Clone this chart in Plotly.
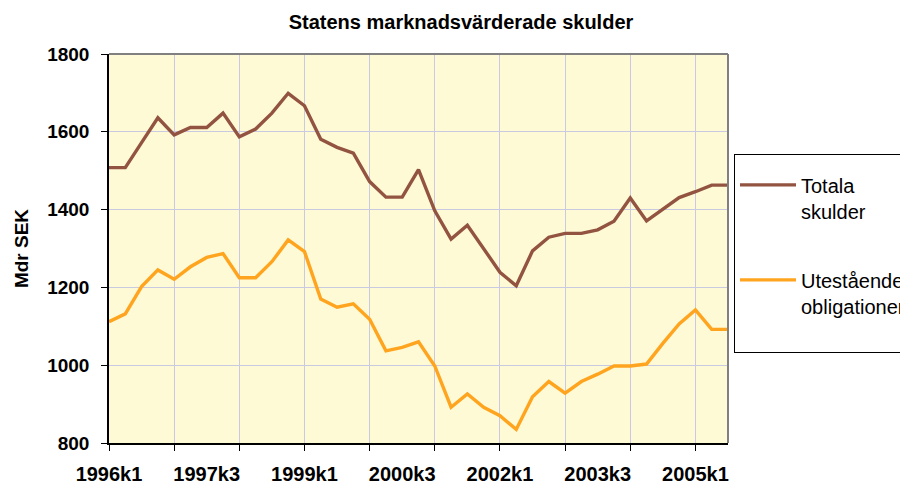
import plotly.graph_objects as go

quarters = [
    "1996k1", "1996k2", "1996k3", "1996k4",
    "1997k1", "1997k2", "1997k3", "1997k4",
    "1998k1", "1998k2", "1998k3", "1998k4",
    "1999k1", "1999k2", "1999k3", "1999k4",
    "2000k1", "2000k2", "2000k3", "2000k4",
    "2001k1", "2001k2", "2001k3", "2001k4",
    "2002k1", "2002k2", "2002k3", "2002k4",
    "2003k1", "2003k2", "2003k3", "2003k4",
    "2004k1", "2004k2", "2004k3", "2004k4",
    "2005k1", "2005k2", "2005k3",
]

totala_skulder = [
    1508, 1508, 1572, 1636, 1592, 1611, 1611, 1648, 1587, 1607,
    1648, 1699, 1667, 1581, 1560, 1545, 1472, 1432, 1432, 1503,
    1397, 1324, 1360, 1298, 1239, 1204, 1294, 1329, 1339, 1339,
    1348, 1370, 1430, 1371, 1402, 1431, 1446, 1463, 1463,
]

utestaende_obligationer = [
    1112, 1132, 1202, 1245, 1221, 1253, 1277, 1287, 1225, 1225,
    1266, 1322, 1292, 1170, 1149, 1158, 1118, 1037, 1046, 1060,
    998, 892, 926, 892, 870, 835, 919, 958, 928, 958,
    977, 998, 998, 1003, 1056, 1106, 1142, 1092, 1092,
]

tick_labels = ["1996k1", "1997k3", "1999k1", "2000k3", "2002k1", "2003k3", "2005k1"]
y_ticks = [800, 1000, 1200, 1400, 1600, 1800]

x_idx = list(range(len(quarters)))
label_pos = [quarters.index(l) for l in tick_labels]
year_pos = [i for i, q in enumerate(quarters) if q.endswith("k1")]

FONT = "Arial, 'Liberation Sans', sans-serif"
GRID = "#C9C9E2"
OFF = 8  # page body margin offset

fig = go.Figure()
fig.add_trace(go.Scatter(
    x=x_idx, y=totala_skulder, mode="lines", name="Totala<br>skulder",
    line=dict(color="#925441", width=3.4), legendgroup="a",
    text=quarters, hoverinfo="text+y",
))
fig.add_trace(go.Scatter(
    x=x_idx, y=utestaende_obligationer, mode="lines",
    name="Utestående<br>obligationer<br>\u00a0",
    line=dict(color="#FFA41E", width=3.4), legendgroup="b",
    text=quarters, hoverinfo="text+y",
))

fig.update_layout(
    width=908, height=484,
    margin=dict(l=109 - OFF, r=908 + OFF - 728, t=54 - OFF, b=484 + OFF - 443),
    paper_bgcolor="white",
    plot_bgcolor="#FFFAD6",
    font=dict(family=FONT, color="black"),
    title=dict(
        text="<b>Statens marknadsvärderade skulder</b>",
        x=(461 - OFF) / 908, xref="container", xanchor="center",
        y=1 - (22 - OFF) / 484, yref="container", yanchor="middle",
        font=dict(size=20, family=FONT, color="black"),
    ),
    legend=dict(
        xref="container", yref="container",
        x=(734 - OFF) / 908, xanchor="left",
        y=1 - (154 - OFF) / 484, yanchor="top",
        bgcolor="white", bordercolor="black", borderwidth=1,
        font=dict(size=20, family=FONT, color="black"),
        title=dict(text=" ", font=dict(size=8)),
        valign="top", traceorder="grouped", tracegroupgap=40,
        itemwidth=56,
    ),
    xaxis=dict(
        range=[0, len(quarters) - 1], automargin=False,
        tickmode="array", tickvals=label_pos, ticktext=tick_labels,
        ticks="", showgrid=False, zeroline=False,
        showline=True, linecolor="black", linewidth=1.5,
        tickfont=dict(size=20, family=FONT, weight="bold"),
        ticklabelstandoff=12,
        minor=dict(tickmode="array", tickvals=year_pos, ticks="outside",
                   ticklen=6, tickcolor="black", tickwidth=1,
                   showgrid=True, gridcolor=GRID, gridwidth=1),
    ),
    yaxis=dict(
        range=[800, 1800], automargin=False,
        tickmode="array", tickvals=y_ticks,
        ticks="outside", ticklen=6, tickcolor="black",
        showgrid=True, gridcolor=GRID, gridwidth=1, zeroline=False,
        showline=True, linecolor="black", linewidth=1.5,
        tickfont=dict(size=19, family=FONT, weight="bold"),
        ticklabelstandoff=8,
        title=dict(text="<b>Mdr SEK</b>", font=dict(size=19, family=FONT), standoff=14),
    ),
    shapes=[
        dict(type="line", xref="paper", yref="paper", x0=0, x1=1, y0=1, y1=1,
             line=dict(color="#808080", width=2)),
        dict(type="line", xref="paper", yref="paper", x0=1, x1=1, y0=0, y1=1,
             line=dict(color="#808080", width=2)),
    ],
)

fig.write_html("out.html")
